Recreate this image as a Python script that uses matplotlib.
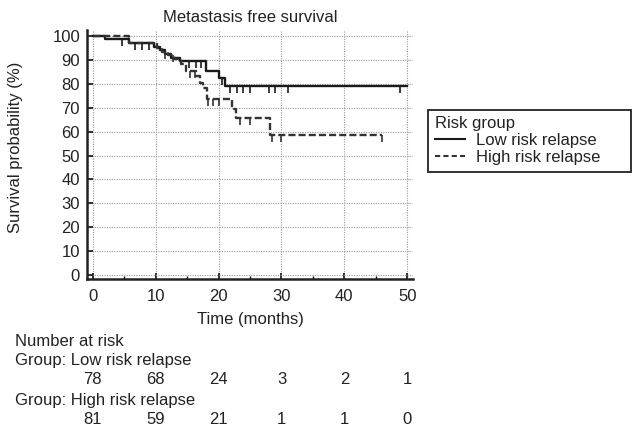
import matplotlib
matplotlib.use("Agg")
import matplotlib.pyplot as plt
from matplotlib.lines import Line2D

plt.rcParams['font.family'] = ['Liberation Sans', 'DejaVu Sans']

# Kaplan-Meier step data (time in months, survival in %)
low_t = [0, 1.9, 5.8, 9.8, 10.7, 11.5, 12.4, 13.9, 18.0, 20.0, 21.0, 49.9]
low_s = [100, 98.8, 97.2, 95.6, 94.2, 92.7, 91.0, 89.6, 85.5, 82.5, 79.3, 79.3]
low_cens_t = [4.7, 6.8, 7.9, 8.9, 15.3, 16.4, 17.2, 20.5, 21.9, 23.0, 23.9, 25.0,
              28.0, 29.0, 31.0, 48.9]

high_t = [0, 5.8, 10.3, 11.0, 12.0, 13.0, 14.0, 14.9, 16.5, 17.1, 17.6, 18.1,
          22.1, 22.8, 28.2, 45.9]
high_s = [100, 97.2, 95.0, 93.5, 92.0, 90.5, 88.5, 85.5, 83.4, 80.5, 78.4, 73.7,
          69.6, 65.9, 58.5, 58.5]
high_cens_t = [11.5, 12.8, 15.5, 16.2, 18.4, 19.2, 20.0, 23.4, 25.0, 28.5, 29.9, 45.9]

risk_times = [0, 10, 20, 30, 40, 50]
low_at_risk = [78, 68, 24, 3, 2, 1]
high_at_risk = [81, 59, 21, 1, 1, 0]

FS = 12
TXT = '#222222'
DASH = (0, (3, 1.3))


def level_at(ts, ss, t):
    val = ss[0]
    for ti, si in zip(ts, ss):
        if ti <= t:
            val = si
    return val


fig = plt.figure(figsize=(6.33, 4.29), dpi=100)
ax = fig.add_axes([0.1374, 0.3497, 0.515, 0.580])

ax.step(low_t, low_s, where='post', color='#1a1a1a', lw=1.7)
ax.step(high_t, high_s, where='post', color='#333333', lw=1.7, linestyle=DASH)

ax.plot(low_cens_t, [level_at(low_t, low_s, t) for t in low_cens_t], linestyle='none',
        marker=3, markersize=5, mew=1.2, color='#1a1a1a')
ax.plot(high_cens_t, [level_at(high_t, high_s, t) for t in high_cens_t], linestyle='none',
        marker=3, markersize=5, mew=1.2, color='#333333')

ax.set_xlim(-0.9, 50.9)
ax.set_ylim(-1.7, 102.5)
ax.set_xticks(range(0, 51, 10))
ax.set_xticks(range(5, 50, 10), minor=True)
ax.set_yticks(range(0, 101, 10))
ax.tick_params(axis='both', direction='in', length=4.5, width=1.3, labelsize=FS,
               colors='#222222')
ax.tick_params(axis='x', pad=7)
ax.tick_params(axis='y', pad=5)
ax.tick_params(axis='x', which='minor', direction='in', length=2.5, width=1)
ax.grid(True, which='major', linestyle=(0, (1, 1.2)), color='#999999', lw=0.8)
for side in ['top', 'right']:
    ax.spines[side].set_visible(False)
for side in ['left', 'bottom']:
    ax.spines[side].set_linewidth(1.8)
    ax.spines[side].set_color('#222222')

ax.set_title("Metastasis free survival", fontsize=FS, pad=6, color=TXT)
ax.set_xlabel("Time (months)", fontsize=FS, labelpad=6, color=TXT)
ax.set_ylabel("Survival probability (%)", fontsize=FS, color=TXT)
ax.yaxis.set_label_coords(-0.196, 0.53)

handles = [Line2D([], [], color='#1a1a1a', lw=1.5),
           Line2D([], [], color='#333333', lw=1.5, linestyle=(0, (2.5, 1.5)))]
leg = fig.legend(handles, ["Low risk relapse", "High risk relapse"], title="Risk group",
                 loc='lower left', bbox_to_anchor=(428 / 633, 1 - 172 / 429, 203 / 633, 0.1),
                 mode='expand', fontsize=FS,
                 title_fontsize=FS, fancybox=False, framealpha=1, edgecolor='#222222',
                 handlelength=1.8, handletextpad=0.7, borderpad=0.4, labelspacing=0.12,
                 borderaxespad=0)
leg._legend_box.align = 'left'
leg.get_frame().set_linewidth(1.3)
for t in leg.get_texts():
    t.set_color(TXT)
leg.get_title().set_color(TXT)

# Number at risk table
fig.text(15 / 633, 1 - 341 / 429, "Number at risk", fontsize=FS, va='center', color=TXT)
fig.text(15 / 633, 1 - 361 / 429, "Group: Low risk relapse", fontsize=FS, va='center', color=TXT)
fig.text(15 / 633, 1 - 400 / 429, "Group: High risk relapse", fontsize=FS, va='center', color=TXT)
for t, lo, hi in zip(risk_times, low_at_risk, high_at_risk):
    xf = fig.transFigure.inverted().transform(ax.transData.transform((t, 0)))[0]
    fig.text(xf, 1 - 380 / 429, str(lo), fontsize=FS, ha='center', va='center', color=TXT)
    fig.text(xf, 1 - 419 / 429, str(hi), fontsize=FS, ha='center', va='center', color=TXT)

fig.savefig("out.png", dpi=100)
